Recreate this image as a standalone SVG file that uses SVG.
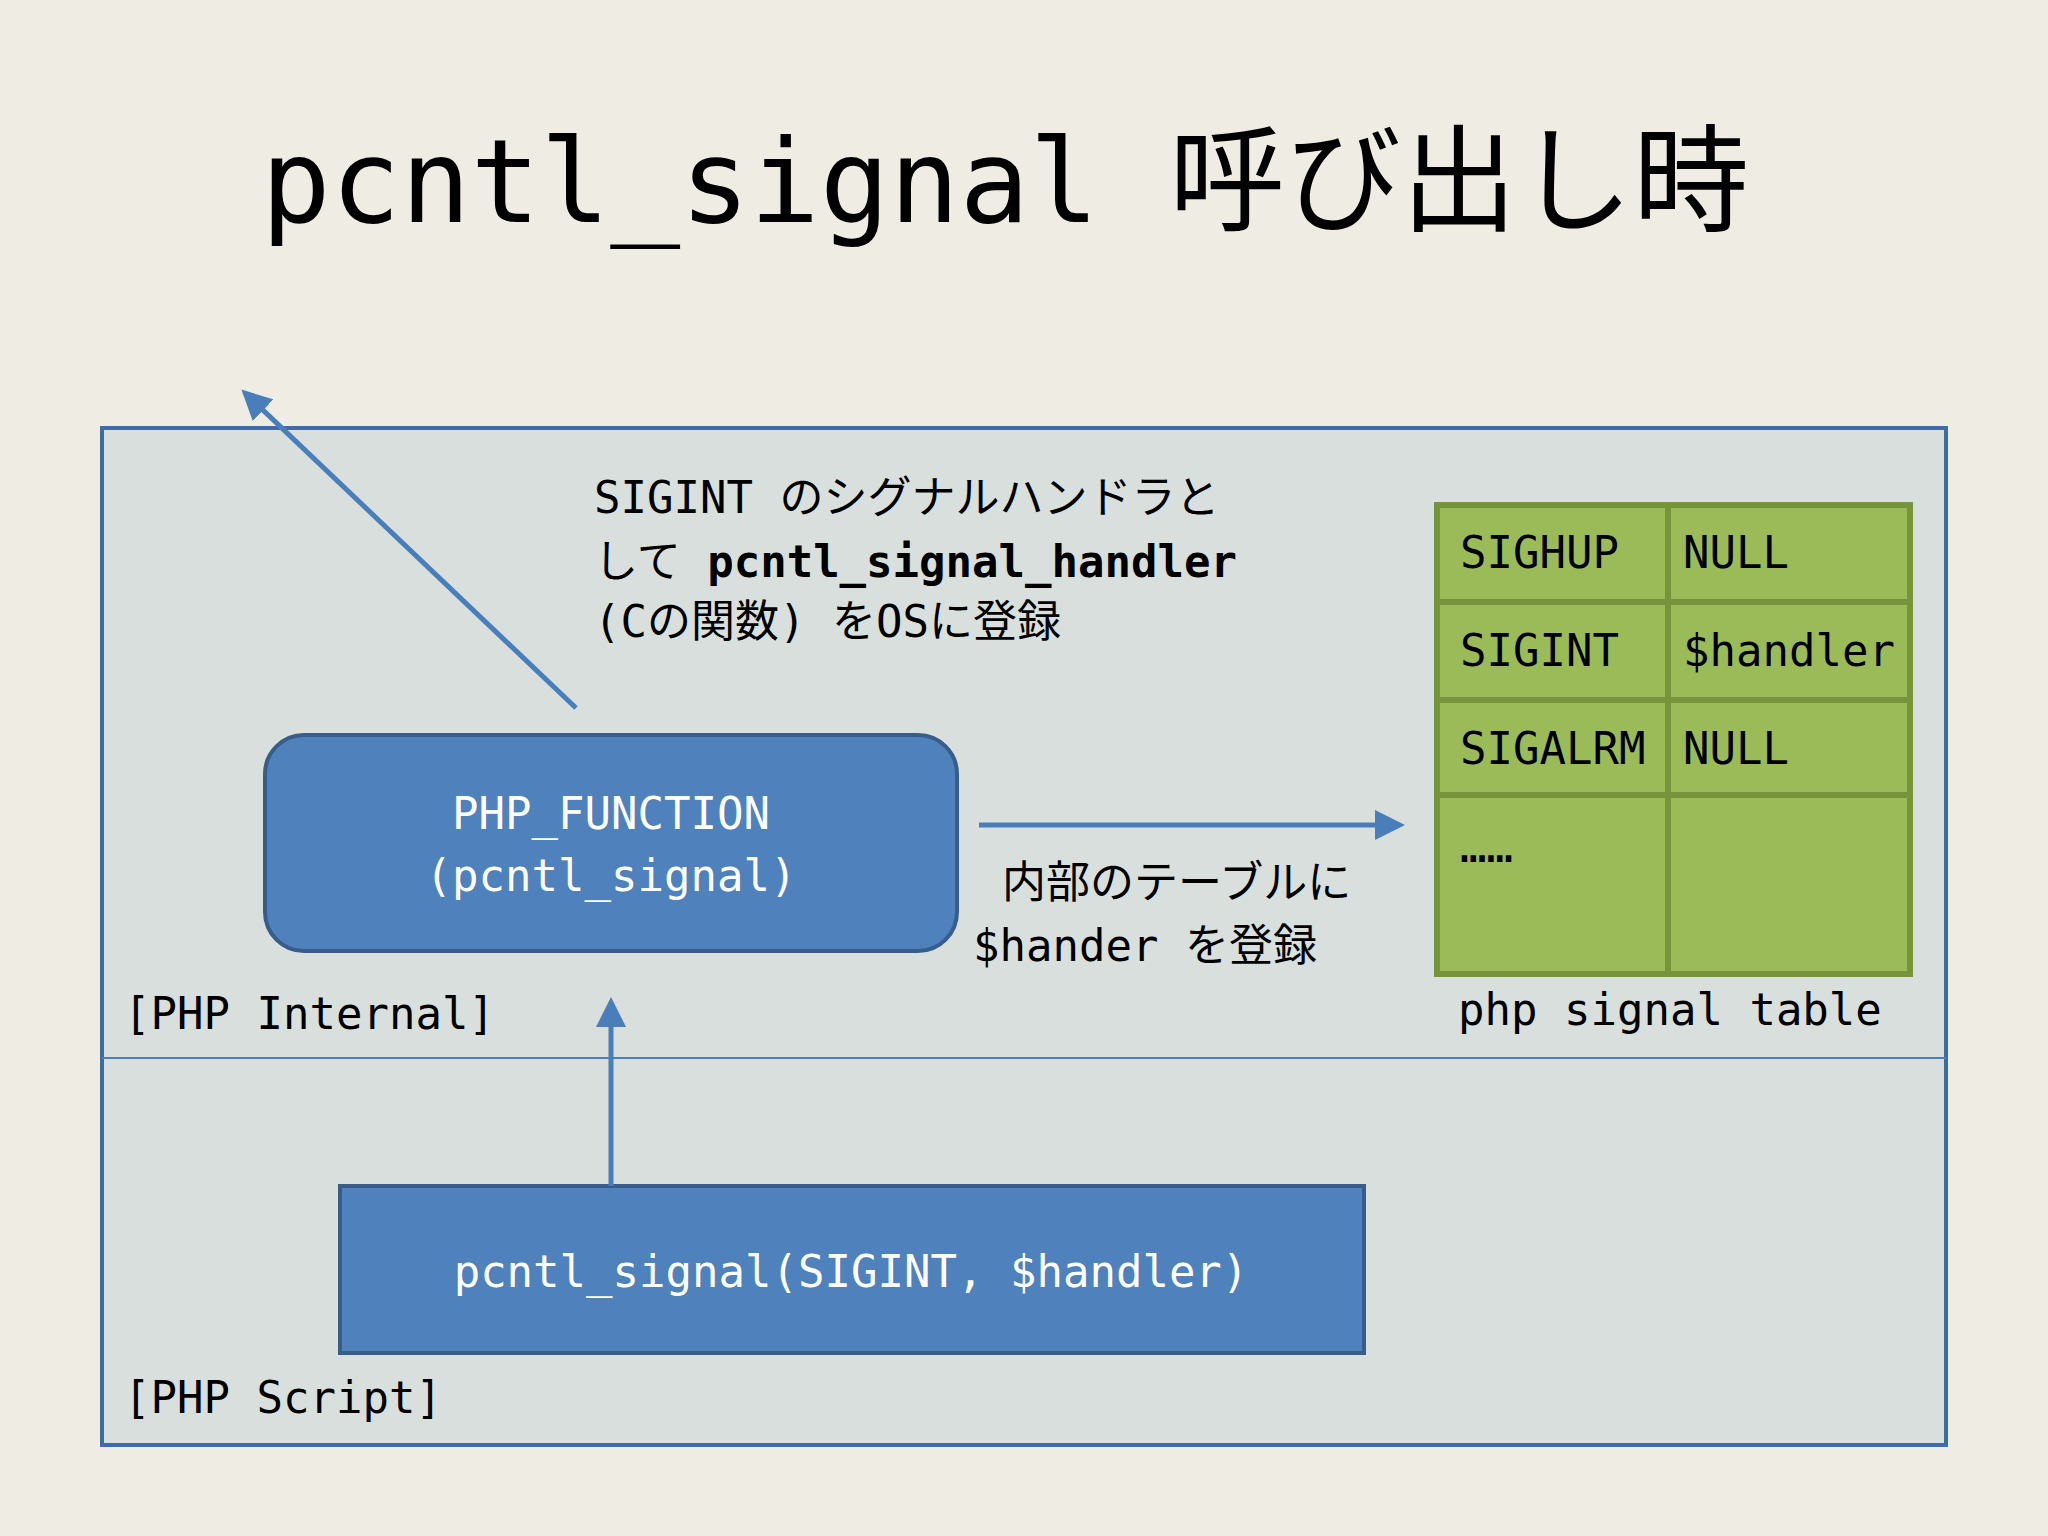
<svg xmlns="http://www.w3.org/2000/svg" width="2048" height="1536" viewBox="0 0 2048 1536">
<style>
.m{font-family:"DejaVu Sans Mono","Liberation Mono","Noto Sans CJK JP",monospace;font-size:44px;fill:#000}
.w{fill:#fff;text-anchor:middle}
.ln{stroke:#4a7ebb;stroke-width:5;fill:none}
.cell{fill:#9bbb59;stroke:#77933c;stroke-width:6}
</style>
<defs>
<marker id="ah" markerWidth="6" markerHeight="6" refX="5" refY="3" orient="auto" markerUnits="strokeWidth"><path d="M0,0L6,3L0,6z" fill="#4a7ebb"/></marker>
</defs>
<rect width="2048" height="1536" fill="#efece4"/>
<text x="261" y="222" font-family="DejaVu Sans Mono,Noto Sans CJK JP,monospace" font-size="116">pcntl_signal 呼び出し時</text>
<g id="outer">
<rect x="102" y="428" width="1844" height="1017" fill="#d9dfdd" stroke="#3f6ba8" stroke-width="4"/>
<line x1="102" y1="1058" x2="1946" y2="1058" stroke="#4a7ebb" stroke-width="2"/>
<text class="m" x="124" y="1029">[PHP Internal]</text>
<text class="m" x="124" y="1413">[PHP Script]</text>
</g>
<g id="func">
<rect x="265" y="735" width="692" height="216" rx="39" fill="#4f81bd" stroke="#385d8a" stroke-width="4"/>
<text class="m w" x="611" y="829">PHP_FUNCTION</text>
<text class="m w" x="611" y="891">(pcntl_signal)</text>
</g>
<g id="script">
<rect x="340" y="1186" width="1024" height="167" fill="#4f81bd" stroke="#385d8a" stroke-width="4"/>
<text class="m w" x="851" y="1287">pcntl_signal(SIGINT, $handler)</text>
</g>
<g id="table">
<rect class="cell" x="1437" y="505" width="231" height="97"/>
<rect class="cell" x="1668" y="505" width="242" height="97"/>
<rect class="cell" x="1437" y="602" width="231" height="98"/>
<rect class="cell" x="1668" y="602" width="242" height="98"/>
<rect class="cell" x="1437" y="700" width="231" height="95"/>
<rect class="cell" x="1668" y="700" width="242" height="95"/>
<rect class="cell" x="1437" y="795" width="231" height="179"/>
<rect class="cell" x="1668" y="795" width="242" height="179"/>
<text class="m" x="1460" y="568" font-size="40">SIGHUP</text>
<text class="m" x="1683" y="568" font-size="40">NULL</text>
<text class="m" x="1460" y="666" font-size="40">SIGINT</text>
<text class="m" x="1683" y="666" font-size="40">$handler</text>
<text class="m" x="1460" y="764" font-size="40">SIGALRM</text>
<text class="m" x="1683" y="764" font-size="40">NULL</text>
<text class="m" x="1460" y="862" font-size="22">……</text>
<text class="m" x="1458" y="1025">php signal table</text>
</g>
<g id="notes">
<text class="m" x="594" y="513">SIGINT のシグナルハンドラと</text>
<text class="m" x="594" y="577">して <tspan font-weight="bold">pcntl_signal_handler</tspan></text>
<text class="m" x="594" y="637">(Cの関数) をOSに登録</text>
<text class="m" x="1002" y="898">内部のテーブルに</text>
<text class="m" x="973" y="961">$hander を登録</text>
</g>
<g id="connectors">
<line class="ln" x1="576" y1="708" x2="245" y2="393" marker-end="url(#ah)"/>
<line class="ln" x1="979" y1="825" x2="1400" y2="825" marker-end="url(#ah)"/>
<line class="ln" x1="611" y1="1186" x2="611" y2="1002" marker-end="url(#ah)"/>
</g>
</svg>
